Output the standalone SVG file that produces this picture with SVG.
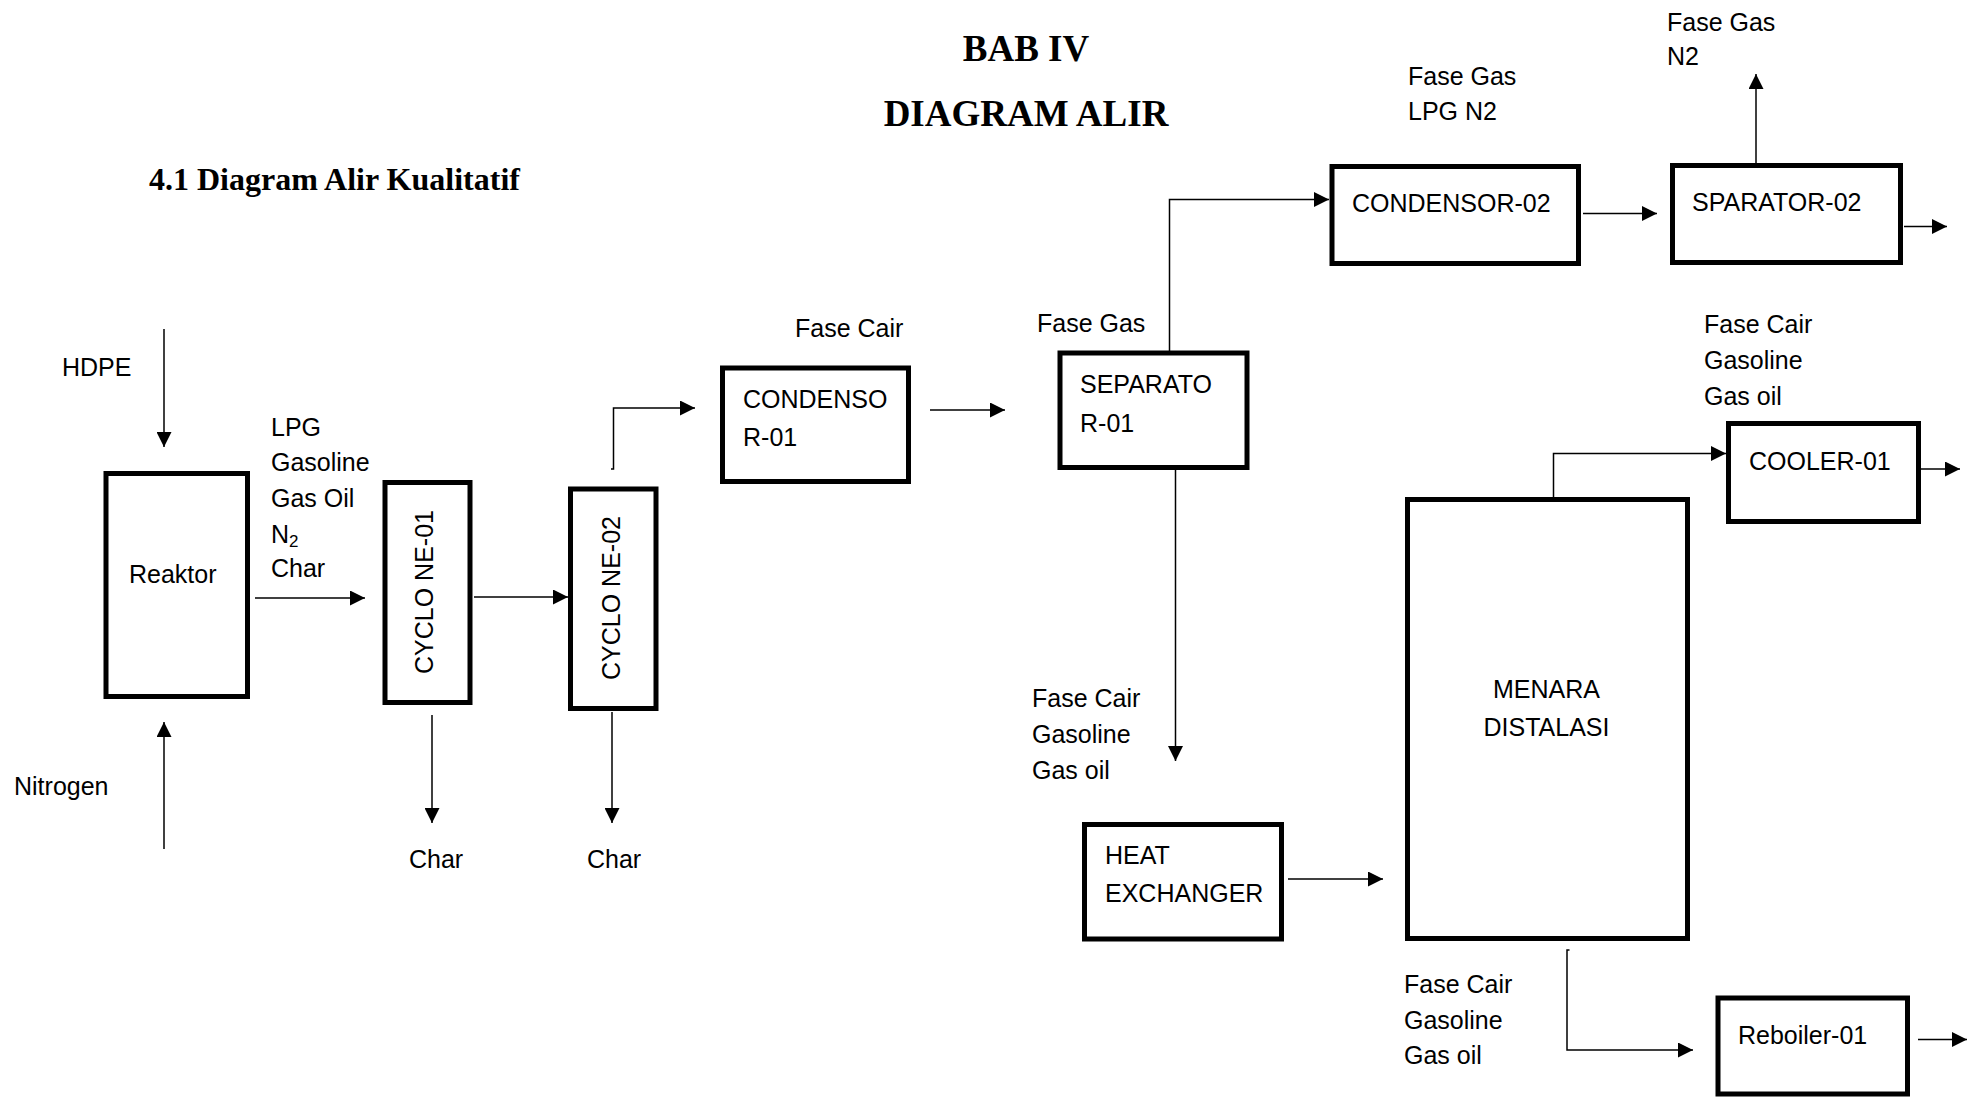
<svg xmlns="http://www.w3.org/2000/svg" width="1977" height="1098" viewBox="0 0 1977 1098">
<style>
  .box { fill: #fff; stroke: #000; stroke-width: 5; }
  .t { font-family: "Liberation Sans", Arial, sans-serif; font-size: 25px; fill: #000; }
  .title { font-family: "Liberation Serif", "Times New Roman", serif; font-weight: bold; fill: #000; }
  .ln { fill: none; stroke: #000; stroke-width: 1.5; }
</style>
<defs>
  <marker id="ah" markerUnits="userSpaceOnUse" markerWidth="16" markerHeight="15" refX="15" refY="7.5" orient="auto">
    <path d="M0,0 L15,7.5 L0,15 z" fill="#000"/>
  </marker>
</defs>
<rect width="1977" height="1098" fill="#fff"/>

<g id="titles">
  <text class="title" x="1026" y="61" font-size="37" text-anchor="middle">BAB IV</text>
  <text class="title" x="1026" y="126" font-size="37" text-anchor="middle">DIAGRAM ALIR</text>
  <text class="title" x="149" y="190" font-size="32">4.1 Diagram Alir Kualitatif</text>
</g>

<g id="connectors">
  <line class="ln" x1="164" y1="329" x2="164" y2="447" marker-end="url(#ah)"/>
  <line class="ln" x1="164" y1="849" x2="164" y2="722" marker-end="url(#ah)"/>
  <line class="ln" x1="255" y1="598" x2="365" y2="598" marker-end="url(#ah)"/>
  <line class="ln" x1="474" y1="597" x2="568" y2="597" marker-end="url(#ah)"/>
  <line class="ln" x1="432" y1="715" x2="432" y2="823" marker-end="url(#ah)"/>
  <line class="ln" x1="612" y1="712" x2="612" y2="823" marker-end="url(#ah)"/>
  <path class="ln" d="M611,469 L613.5,469 L613.5,408 L695,408" marker-end="url(#ah)"/>
  <line class="ln" x1="930" y1="410" x2="1005" y2="410" marker-end="url(#ah)"/>
  <path class="ln" d="M1169.5,352 L1169.5,199.5 L1329,199.5" marker-end="url(#ah)"/>
  <line class="ln" x1="1583" y1="213.5" x2="1657" y2="213.5" marker-end="url(#ah)"/>
  <line class="ln" x1="1756" y1="163" x2="1756" y2="74" marker-end="url(#ah)"/>
  <line class="ln" x1="1904" y1="226.5" x2="1947" y2="226.5" marker-end="url(#ah)"/>
  <line class="ln" x1="1175.5" y1="470" x2="1175.5" y2="761" marker-end="url(#ah)"/>
  <line class="ln" x1="1288" y1="879" x2="1383" y2="879" marker-end="url(#ah)"/>
  <path class="ln" d="M1553.5,497 L1553.5,453.5 L1726,453.5" marker-end="url(#ah)"/>
  <line class="ln" x1="1921" y1="469" x2="1960" y2="469" marker-end="url(#ah)"/>
  <path class="ln" d="M1569.5,950 L1567,950 L1567,1050 L1693,1050" marker-end="url(#ah)"/>
  <line class="ln" x1="1918" y1="1039.5" x2="1967" y2="1039.5" marker-end="url(#ah)"/>
</g>

<g id="stream-labels">
  <text class="t" x="62" y="376">HDPE</text>
  <text class="t" x="14" y="795">Nitrogen</text>
  <text class="t" x="271" y="436">LPG</text>
  <text class="t" x="271" y="471">Gasoline</text>
  <text class="t" x="271" y="507">Gas Oil</text>
  <text class="t" x="271" y="543">N<tspan font-size="17" dy="4">2</tspan></text>
  <text class="t" x="271" y="577">Char</text>
  <text class="t" x="409" y="868">Char</text>
  <text class="t" x="587" y="868">Char</text>
  <text class="t" x="795" y="337">Fase Cair</text>
  <text class="t" x="1037" y="332">Fase Gas</text>
  <text class="t" x="1032" y="707">Fase Cair</text>
  <text class="t" x="1032" y="743">Gasoline</text>
  <text class="t" x="1032" y="779">Gas oil</text>
  <text class="t" x="1408" y="85">Fase Gas</text>
  <text class="t" x="1408" y="120">LPG N2</text>
  <text class="t" x="1667" y="31">Fase Gas</text>
  <text class="t" x="1667" y="65">N2</text>
  <text class="t" x="1704" y="333">Fase Cair</text>
  <text class="t" x="1704" y="369">Gasoline</text>
  <text class="t" x="1704" y="405">Gas oil</text>
  <text class="t" x="1404" y="993">Fase Cair</text>
  <text class="t" x="1404" y="1029">Gasoline</text>
  <text class="t" x="1404" y="1064">Gas oil</text>
</g>

<g id="reaktor">
  <rect class="box" x="106" y="473.5" width="141.5" height="223"/>
  <text class="t" x="129" y="583">Reaktor</text>
</g>
<g id="cyclone-01">
  <rect class="box" x="385" y="482.5" width="85" height="220"/>
  <text class="t" transform="translate(433,592) rotate(-90)" text-anchor="middle">CYCLO NE-01</text>
</g>
<g id="cyclone-02">
  <rect class="box" x="570.5" y="489" width="85.5" height="219.5"/>
  <text class="t" transform="translate(620,598) rotate(-90)" text-anchor="middle">CYCLO NE-02</text>
</g>
<g id="condensor-01">
  <rect class="box" x="722.5" y="368" width="186" height="113.5"/>
  <text class="t" x="743" y="408">CONDENSO</text>
  <text class="t" x="743" y="446">R-01</text>
</g>
<g id="separator-01">
  <rect class="box" x="1060" y="353" width="187" height="114.5"/>
  <text class="t" x="1080" y="393">SEPARATO</text>
  <text class="t" x="1080" y="432">R-01</text>
</g>
<g id="condensor-02">
  <rect class="box" x="1332" y="166.5" width="246.5" height="97"/>
  <text class="t" x="1352" y="212">CONDENSOR-02</text>
</g>
<g id="sparator-02">
  <rect class="box" x="1672.5" y="165.5" width="228" height="97"/>
  <text class="t" x="1692" y="211">SPARATOR-02</text>
</g>
<g id="cooler-01">
  <rect class="box" x="1728.5" y="423.5" width="190" height="98"/>
  <text class="t" x="1749" y="470">COOLER-01</text>
</g>
<g id="menara-distalasi">
  <rect class="box" x="1407.5" y="499.5" width="280" height="439"/>
  <text class="t" x="1546.5" y="697.5" text-anchor="middle">MENARA</text>
  <text class="t" x="1546.5" y="736" text-anchor="middle">DISTALASI</text>
</g>
<g id="heat-exchanger">
  <rect class="box" x="1084.5" y="824.5" width="197" height="114.5"/>
  <text class="t" x="1105" y="864">HEAT</text>
  <text class="t" x="1105" y="902">EXCHANGER</text>
</g>
<g id="reboiler-01">
  <rect class="box" x="1718" y="998" width="189.5" height="96"/>
  <text class="t" x="1738" y="1044">Reboiler-01</text>
</g>
</svg>
